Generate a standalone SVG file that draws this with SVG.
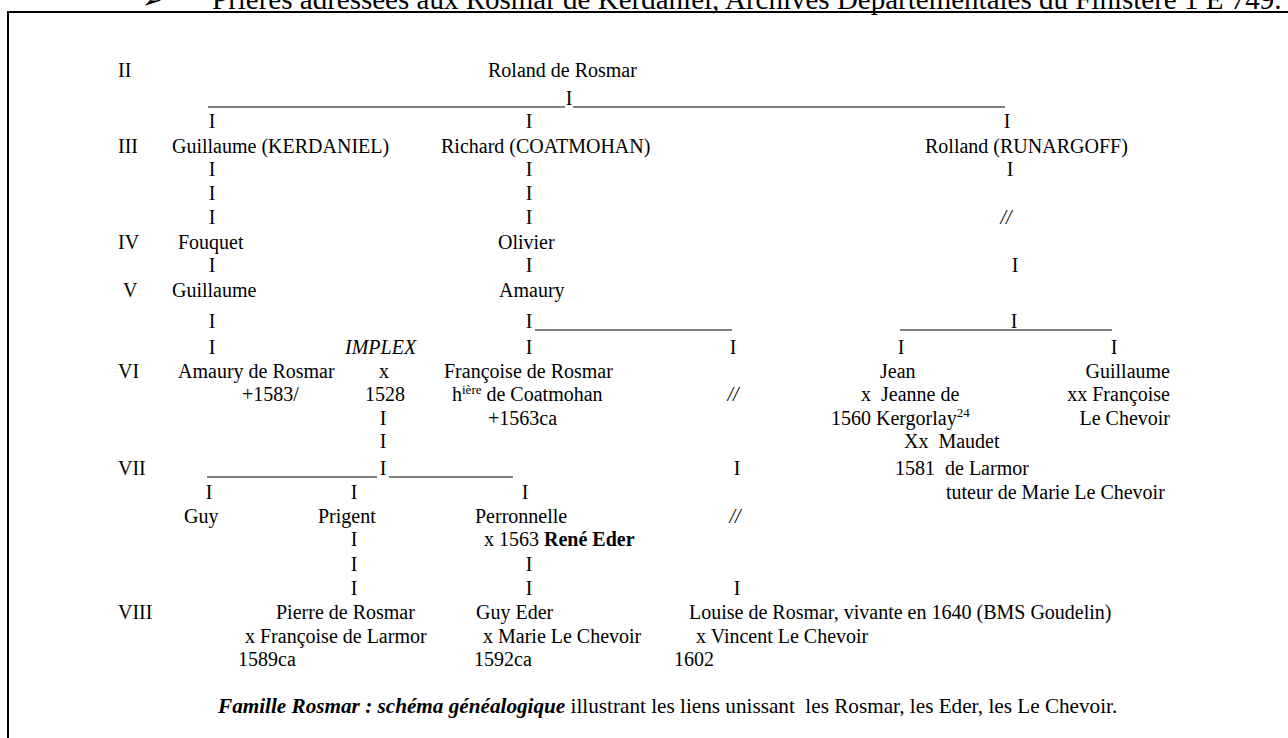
<svg xmlns="http://www.w3.org/2000/svg" width="1288" height="738" viewBox="0 0 1288 738">
<style>
text{font-family:"Liberation Serif","Times New Roman",serif;font-size:20px;fill:#000}
.c{text-anchor:middle}
.e{text-anchor:end}
.it{font-style:italic}
.b{font-weight:bold}
.bi{font-weight:bold;font-style:italic}
.sup{font-size:13px}
.ln{stroke:#000;stroke-width:1.2;fill:none}
.top{font-size:29px}
.cap{font-size:21.2px}
</style>
<rect width="1288" height="738" fill="#fff"/>
<g id="page-header">
<text x="142" y="8" style="font-size:24px">➢</text>
<text class="top" x="212" y="9">Prières adressées aux Rosmar de Kerdaniel, Archives Départementales du Finistère 1 E 749.</text>
</g>
<g id="frame">
<line x1="8" y1="12" x2="1290" y2="12" stroke="#000" stroke-width="1.8"/>
<line x1="8" y1="11" x2="8" y2="740" stroke="#000" stroke-width="2"/>
</g>
<g id="generations">
<text x="118" y="77">II</text>
<text x="118" y="153">III</text>
<text x="118" y="249">IV</text>
<text x="123" y="297">V</text>
<text x="118" y="378">VI</text>
<text x="118" y="475">VII</text>
<text x="118" y="619">VIII</text>
</g>
<g id="connectors">
<line class="ln" x1="208" y1="107" x2="565" y2="107"/>
<line class="ln" x1="573" y1="107" x2="1005" y2="107"/>
<text class="c" x="569" y="105">I</text>
<text class="c" x="212" y="128">I</text>
<text class="c" x="529" y="128">I</text>
<text class="c" x="1007" y="128">I</text>
<text class="c" x="212" y="176">I</text>
<text class="c" x="529" y="176">I</text>
<text class="c" x="1010" y="176">I</text>
<text class="c" x="212" y="200">I</text>
<text class="c" x="529" y="200">I</text>
<text class="c" x="212" y="224">I</text>
<text class="c" x="529" y="224">I</text>
<text class="c it" x="1006" y="224">//</text>
<text class="c" x="212" y="272">I</text>
<text class="c" x="529" y="272">I</text>
<text class="c" x="1015" y="272">I</text>
<text class="c" x="212" y="328">I</text>
<text class="c" x="529" y="328">I</text>
<line class="ln" x1="535" y1="330" x2="732" y2="330"/>
<line class="ln" x1="900" y1="330" x2="1112" y2="330"/>
<text class="c" x="1014" y="328">I</text>
<text class="c" x="212" y="354">I</text>
<text class="c" x="529" y="354">I</text>
<text class="c" x="733" y="354">I</text>
<text class="c" x="901" y="354">I</text>
<text class="c" x="1114" y="354">I</text>
<text class="c it" x="733" y="401">//</text>
<text class="c" x="383" y="425">I</text>
<text class="c" x="383" y="448">I</text>
<line class="ln" x1="207" y1="477" x2="377" y2="477"/>
<text class="c" x="383" y="475">I</text>
<line class="ln" x1="389" y1="477" x2="513" y2="477"/>
<text class="c" x="737" y="475">I</text>
<text class="c" x="209" y="499">I</text>
<text class="c" x="354" y="499">I</text>
<text class="c" x="525" y="499">I</text>
<text class="c it" x="735" y="523">//</text>
<text class="c" x="354" y="546">I</text>
<text class="c" x="354" y="571">I</text>
<text class="c" x="529" y="571">I</text>
<text class="c" x="354" y="595">I</text>
<text class="c" x="529" y="595">I</text>
<text class="c" x="737" y="595">I</text>
</g>
<g id="roland"><text x="488" y="77">Roland de Rosmar</text></g>
<g id="guillaume-kerdaniel"><text x="172" y="153">Guillaume (KERDANIEL)</text></g>
<g id="richard-coatmohan"><text x="441" y="153">Richard (COATMOHAN)</text></g>
<g id="rolland-runargoff"><text x="925" y="153">Rolland (RUNARGOFF)</text></g>
<g id="fouquet"><text x="178" y="249">Fouquet</text></g>
<g id="olivier"><text x="498" y="249">Olivier</text></g>
<g id="guillaume-v"><text x="172" y="297">Guillaume</text></g>
<g id="amaury-v"><text x="499" y="297">Amaury</text></g>
<g id="implex"><text class="it" x="345" y="354">IMPLEX</text></g>
<g id="amaury-de-rosmar">
<text x="178" y="378">Amaury de Rosmar</text>
<text x="242" y="401">+1583/</text>
</g>
<g id="marriage-1528">
<text class="c" x="384" y="378">x</text>
<text class="c" x="385" y="401">1528</text>
</g>
<g id="francoise-de-rosmar">
<text x="444" y="378">Françoise de Rosmar</text>
<text x="452" y="401">h<tspan class="sup" dy="-7">ière</tspan><tspan dy="7"> de Coatmohan</tspan></text>
<text x="488" y="425">+1563ca</text>
</g>
<g id="jean">
<text x="880" y="378">Jean</text>
<text x="861" y="401" xml:space="preserve">x  Jeanne de</text>
<text x="831" y="425">1560 Kergorlay<tspan class="sup" dy="-8">24</tspan></text>
<text x="904" y="448" xml:space="preserve">Xx  Maudet</text>
<text x="895" y="475" xml:space="preserve">1581  de Larmor</text>
<text x="946" y="499">tuteur de Marie Le Chevoir</text>
</g>
<g id="guillaume-vi">
<text class="e" x="1170" y="378">Guillaume</text>
<text class="e" x="1170" y="401">xx Françoise</text>
<text class="e" x="1170" y="425">Le Chevoir</text>
</g>
<g id="guy"><text x="184" y="523">Guy</text></g>
<g id="prigent"><text x="318" y="523">Prigent</text></g>
<g id="perronnelle">
<text x="475" y="523">Perronnelle</text>
<text x="484" y="546">x 1563 <tspan class="b">René Eder</tspan></text>
</g>
<g id="pierre-de-rosmar">
<text x="276" y="619">Pierre de Rosmar</text>
<text x="245" y="643">x Françoise de Larmor</text>
<text x="238" y="666">1589ca</text>
</g>
<g id="guy-eder">
<text x="476" y="619">Guy Eder</text>
<text x="483" y="643">x Marie Le Chevoir</text>
<text x="474" y="666">1592ca</text>
</g>
<g id="louise-de-rosmar">
<text x="689" y="619">Louise de Rosmar, vivante en 1640 (BMS Goudelin)</text>
<text x="696" y="643">x Vincent Le Chevoir</text>
<text x="674" y="666">1602</text>
</g>
<g id="caption">
<text class="cap" x="218" y="713" xml:space="preserve"><tspan class="bi">Famille Rosmar : schéma généalogique</tspan> illustrant les liens unissant  les Rosmar, les Eder, les Le Chevoir.</text>
</g>
</svg>
